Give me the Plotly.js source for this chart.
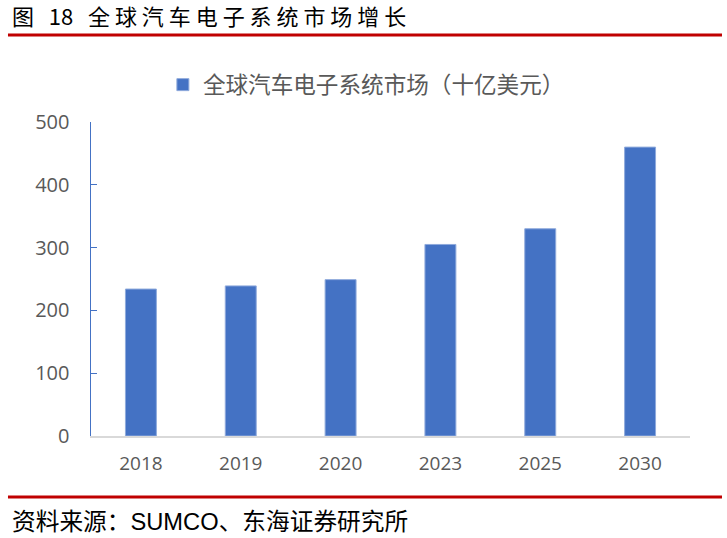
<!DOCTYPE html>
<html>
<head>
<meta charset="utf-8">
<script src="https://cdn.plot.ly/plotly-3.0.1.min.js"></script>
<style>
  html, body { margin: 0; padding: 0; background: #fff; }
  #chart { width: 727px; height: 538px; }
</style>
</head>
<body>
<div id="chart"></div>
<script>
var years = ["2018", "2019", "2020", "2023", "2025", "2030"];
var market = [234, 239, 249, 305, 330, 460];
var seriesName = "全球汽车电子系统市场（十亿美元）";
var yTicks = [0, 100, 200, 300, 400, 500];

var cjk = '"Noto Sans CJK SC", "Noto Sans", sans-serif';
var num = '"Open Sans", "Noto Sans", sans-serif';

// spread the title glyphs like the report's heading style
var sp = "\u00A0";
var titleText = "图" + sp + sp + sp + "18" + sp + sp + sp +
  "全球汽车电子系统市场增长".split("").join(sp);

var trace1 = {
  x: years,
  y: market,
  name: seriesName,
  type: "bar",
  marker: { color: "#4472C4", line: { color: "#8FAADC", width: 1 } },
  showlegend: true,
  hoverinfo: "x+y",
};

var data = [trace1];

var layout = {
  width: 727,
  height: 538,
  margin: { l: 91, r: 37, t: 122, b: 102 },
  paper_bgcolor: "#fff",
  plot_bgcolor: "#fff",
  bargap: 0.69,
  showlegend: true,
  legend: {
    orientation: "h",
    x: 0.12,
    xanchor: "left",
    y: 1.118,
    yanchor: "middle",
    font: { family: cjk, size: 22.6, color: "#595959" },
  },
  xaxis: {
    type: "category",
    showline: true,
    linecolor: "#d9d9d9",
    linewidth: 2,
    ticks: "",
    showgrid: false,
    tickfont: { family: num, size: 19, color: "#595959" },
    ticklabelstandoff: 9,
  },
  yaxis: {
    range: [0, 500],
    tickvals: yTicks,
    showline: true,
    linecolor: "#4472C4",
    linewidth: 1.5,
    ticks: "inside",
    ticklen: 6,
    tickcolor: "#4472C4",
    showgrid: false,
    zeroline: false,
    tickfont: { family: num, size: 20, color: "#595959" },
    ticklabelstandoff: 16,
  },
  shapes: [
    {
      type: "line", xref: "paper", yref: "paper",
      x0: -0.1386, x1: 1.0534, y0: 1.277, y1: 1.277,
      line: { color: "#C00000", width: 3 },
    },
    {
      type: "line", xref: "paper", yref: "paper",
      x0: -0.1386, x1: 1.0534, y0: -0.194, y1: -0.194,
      line: { color: "#C00000", width: 3 },
    },
  ],
  annotations: [
    {
      text: titleText,
      xref: "paper", yref: "paper",
      x: -0.1352, y: 1.342, xanchor: "left", yanchor: "middle",
      showarrow: false,
      font: { family: cjk, size: 22, color: "#000" },
    },
    {
      text: "资料来源：<span style='font-family:\"Liberation Sans\", Arial'>SUMCO</span>、东海证券研究所",
      xref: "paper", yref: "paper",
      x: -0.1352, y: -0.2675, xanchor: "left", yanchor: "middle",
      showarrow: false,
      font: { family: cjk, size: 23.7, color: "#000" },
    },
  ],
};

var config = { responsive: false, displayModeBar: false, staticPlot: true };

Plotly.newPlot("chart", data, layout, config);
</script>
</body>
</html>
